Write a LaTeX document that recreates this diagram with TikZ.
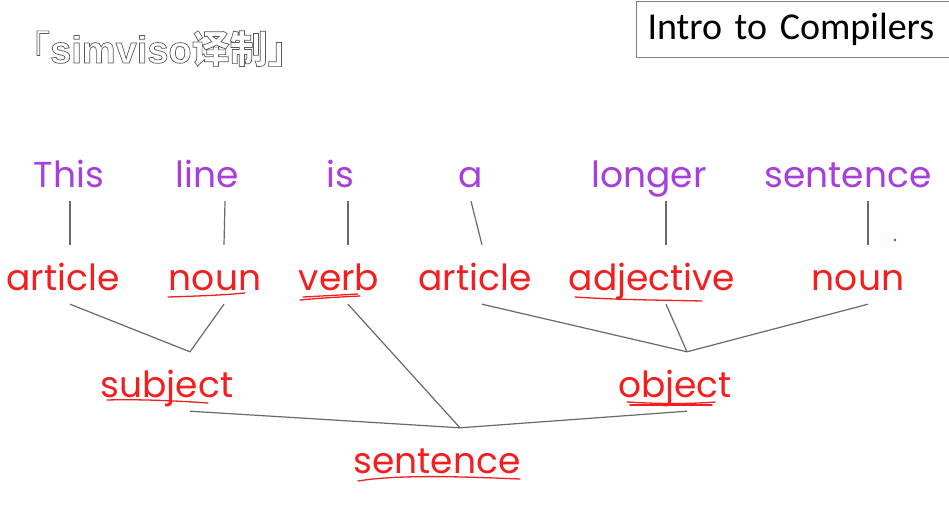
\documentclass[tikz,border=0pt]{standalone}
\usepackage{fontspec}
\newfontfamily\wordfont{Poppins}
\newfontfamily\titlefont{Carlito}
\newfontfamily\marklatin{Liberation Sans}
\newfontfamily\markcjk{Noto Sans CJK SC}
\definecolor{wordpurple}{RGB}{168,62,222}
\definecolor{wordred}{RGB}{245,30,30}
\definecolor{linegray}{RGB}{105,105,105}
\newcommand\hollow[1]{{\special{pdf:code q 1 Tr 0.7 w 0.35 G}#1\special{pdf:code 0 Tr Q}}}
\begin{document}
\begin{tikzpicture}[x=1pt, y=-1pt,
    word/.style={anchor=base, inner xsep=0pt, inner ysep=6pt, text height=39pt, text depth=8pt,
      font=\wordfont\fontsize{36}{36}\selectfont},
    tok/.style={word, text=wordpurple},
    cat/.style={word, text=wordred},
    link/.style={draw=linegray, line width=1.2pt},
    pen/.style={draw=wordred, line width=1.3pt, line cap=round, line join=round}]
  \useasboundingbox[fill=white] (0,0) rectangle (949,517);
  \node[draw=gray, line width=1pt, anchor=north west, inner xsep=11pt, minimum height=56pt,
    text width=310pt, align=left, font=\titlefont\fontsize{38}{38}\selectfont] (title) at (636,1) {Intro to Compilers};

  \node[tok] (This) at (69,187) {This};
  \node[tok] (line) at (207,187) {line};
  \node[tok] (is) at (340,187) {is};
  \node[tok] (a) at (471,187) {a};
  \node[tok] (longer) at (649,187) {longer};
  \node[tok] (sentence) at (848,187) {sentence};

  \node[cat] (art1) at (63,290) {article};
  \node[cat] (noun1) at (215,290) {noun};
  \node[cat] (verb) at (339,290) {verb};
  \node[cat] (art2) at (475,290) {article};
  \node[cat] (adj) at (652,290) {adjective};
  \node[cat] (noun2) at (858,290) {noun};

  \node[cat] (subj) at (167,397) {subject};
  \node[cat] (obj) at (675,397) {object};
  \node[cat] (sent) at (437,473) {sentence};

  \coordinate (j1) at ([xshift=23pt]subj.north);
  \coordinate (j2) at ([xshift=12pt]obj.north);
  \coordinate (j3) at ([xshift=23pt]sent.north);

  \draw[link] ([xshift=1pt]This.south) -- ([xshift=7pt]art1.north);
  \draw[link] ([xshift=18pt]line.south) -- ([xshift=9pt]noun1.north);
  \draw[link] ([xshift=8pt]is.south) -- ([xshift=9pt]verb.north);
  \draw[link] (a.south) -- ([xshift=7pt]art2.north);
  \draw[link] ([xshift=17pt]longer.south) -- ([xshift=14pt]adj.north);
  \draw[link] ([xshift=20pt]sentence.south) -- ([xshift=10pt]noun2.north);

  \draw[link] ([xshift=7pt]art1.south) -- (j1) -- ([xshift=9pt]noun1.south);
  \draw[link] ([xshift=9pt]verb.south) -- (j3);
  \draw[link] ([xshift=7pt]art2.south) -- (j2) -- ([xshift=10pt]noun2.south);
  \draw[link] ([xshift=14pt]adj.south) -- (j2);
  \draw[link] ([xshift=23pt]subj.south) -- (j3) -- ([xshift=12pt]obj.south);

  \draw[pen] (168,297) .. controls (200,296) and (225,295) .. (245,293);
  \draw[pen] (300,300) .. controls (320,298) and (340,297) .. (360,296);
  \draw[pen] (303,297) -- (358,294);
  \draw[pen] (107,400) .. controls (140,399) and (180,401) .. (208,403);
  \draw[pen] (575,297) .. controls (620,300) and (660,300) .. (702,301);
  \draw[pen] (627,402) .. controls (660,404) and (690,404) .. (715,402);
  \draw[pen] (630,405) -- (712,405);
  \draw[pen] (358,481) .. controls (400,474) and (470,477) .. (520,479);
  \fill[wordred] (895,240) circle (1.3);

  \node[anchor=base west, inner sep=0pt, font=\fontsize{38}{38}\selectfont] (mark) at (12,63)
    {\hollow{\markcjk 「\marklatin\bfseries simviso\markcjk 译制」}};
\end{tikzpicture}
\end{document}
